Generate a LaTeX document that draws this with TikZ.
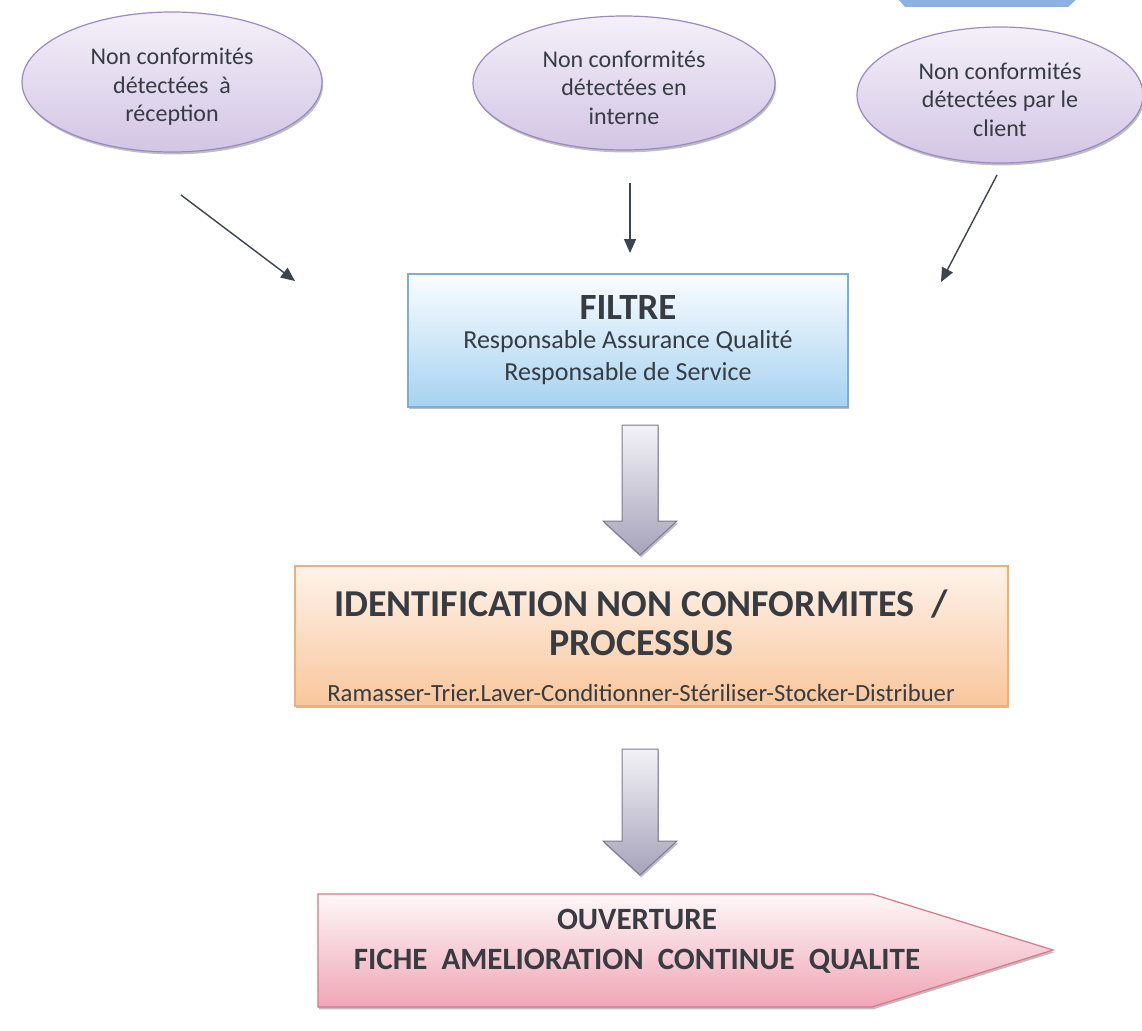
\documentclass[tikz,border=0pt]{standalone}
\usepackage{fontspec}
\setmainfont{Carlito}
\usetikzlibrary{arrows.meta,shapes.geometric,shadows,calc}

\definecolor{ink}{HTML}{363C42}
\definecolor{lineink}{HTML}{3C4450}
\definecolor{lavtop}{HTML}{F4F0F9}
\definecolor{lavbot}{HTML}{D3C5E5}
\definecolor{lavedge}{HTML}{9A8AC4}
\definecolor{bluetop}{HTML}{FBFDFF}
\definecolor{bluebot}{HTML}{A6D2F1}
\definecolor{blueedge}{HTML}{79AEDF}
\definecolor{peachtop}{HTML}{FEF3EA}
\definecolor{peachbot}{HTML}{F9C69C}
\definecolor{peachedge}{HTML}{F3AE73}
\definecolor{pinktop}{HTML}{FEF7F8}
\definecolor{pinkbot}{HTML}{F0A6B6}
\definecolor{pinkedge}{HTML}{DE7488}
\definecolor{greytop}{HTML}{F3F2F7}
\definecolor{greybot}{HTML}{A7A3BB}
\definecolor{greyedge}{HTML}{7C7B8C}
\definecolor{banner}{HTML}{8DB0E2}

\tikzset{
  softshadow/.style={drop shadow={shadow xshift=1.2pt,shadow yshift=-2.4pt,fill=black!55,opacity=.45}},
  source/.style={ellipse, draw=lavedge, line width=1.2pt, top color=lavtop, bottom color=lavbot,
    softshadow, inner sep=0pt, align=center, text=ink, font=\fontsize{24}{28.5}\selectfont},
  stagebox/.style={rectangle, line width=1.2pt, inner sep=0pt, align=center, text=ink, softshadow},
  feed/.style={draw=lineink, line width=1.4pt, -{Triangle[length=14pt,width=12pt]}},
  blockarrow/.style={draw=greyedge, line width=1pt, top color=greytop, bottom color=greybot, softshadow},
}

% hollow block arrow pointing down, from a top coordinate to a tip coordinate
\newcommand\downblock[2]{%
  \path[blockarrow] let \p1=(#1), \p2=(#2) in
    (\x1-18pt,\y1) -- (\x1+18pt,\y1) -- (\x1+18pt,\y2+34pt) -- (\x1+37pt,\y2+34pt)
    -- (\x2,\y2) -- (\x1-37pt,\y2+34pt) -- (\x1-18pt,\y2+34pt) -- cycle;}

\begin{document}
\begin{tikzpicture}[x=1pt,y=-1pt]
\useasboundingbox (0,0) rectangle (1142,1030);
\fill[white] (0,0) rectangle (1142,1030);

% blue banner cut by the top edge
\fill[banner] (897,-2) -- (1078,-2) -- (1068,7) -- (905,7) -- cycle;

% three sources of non conformity
\node[source, minimum width=300, minimum height=140] (recep) at (172,82)
  {\rule{0pt}{26pt}Non conformités\\détectées\ \ à\\réception};
\node[source, minimum width=302, minimum height=134] (interne) at (624,83)
  {\rule{0pt}{26pt}Non conformités\\détectées en\\interne};
\node[source, minimum width=286, minimum height=136] (client) at (1000,95)
  {\rule{0pt}{26pt}Non conformités\\détectées par le\\client};

% filter box
\node[stagebox, draw=blueedge, top color=bluetop, bottom color=bluebot,
      minimum width=440, minimum height=133, font=\fontsize{26}{32.5}\selectfont] (filtre) at (628,340.5)
  {{\fontsize{37}{35}\selectfont\bfseries FILTRE}\\[-4pt]Responsable Assurance Qualité\\Responsable de Service};

% identification box
\node[stagebox, draw=peachedge, top color=peachtop, bottom color=peachbot,
      minimum width=713, minimum height=140] (ident) at (651.5,636) {};
\node[align=center, text=ink, font=\fontsize{24.7}{39}\selectfont] (identtext) at (641,646)
  {{\fontsize{38}{39}\selectfont\bfseries IDENTIFICATION NON CONFORMITES\ \ /}\\
   {\fontsize{38}{39}\selectfont\bfseries PROCESSUS}\\[7pt]
   Ramasser-Trier.Laver-Conditionner-Stériliser-Stocker-Distribuer};

% opening of the improvement sheet (pointed banner)
\path[draw=pinkedge, line width=1.2pt, top color=pinktop, bottom color=pinkbot, softshadow]
  (318,894) -- (872,894) -- (1053,950) -- (872,1007) -- (318,1007) -- cycle;
\node[align=center, text=ink, font=\fontsize{31}{40}\selectfont\bfseries] (fiche) at (637,941)
  {OUVERTURE\\FICHE\ \ AMELIORATION\ \ CONTINUE\ \ QUALITE};
\coordinate (ficheTop) at (640,875);

% feeding arrows
\coordinate (r0) at (181,195);  \coordinate (r1) at (295,281);
\coordinate (i0) at (630,183);  \coordinate (i1) at (630,253);
\coordinate (c0) at (997,175);  \coordinate (c1) at (941,282);
\draw[feed] (r0) -- (r1);
\draw[feed] (i0) -- (i1);
\draw[feed] (c0) -- (c1);

% block arrows between stages
\coordinate (b1top) at (640,425); \coordinate (b1tip) at (640,555);
\coordinate (b2top) at (640,749);
\downblock{b1top}{b1tip}
\downblock{b2top}{ficheTop}
\end{tikzpicture}
\end{document}
